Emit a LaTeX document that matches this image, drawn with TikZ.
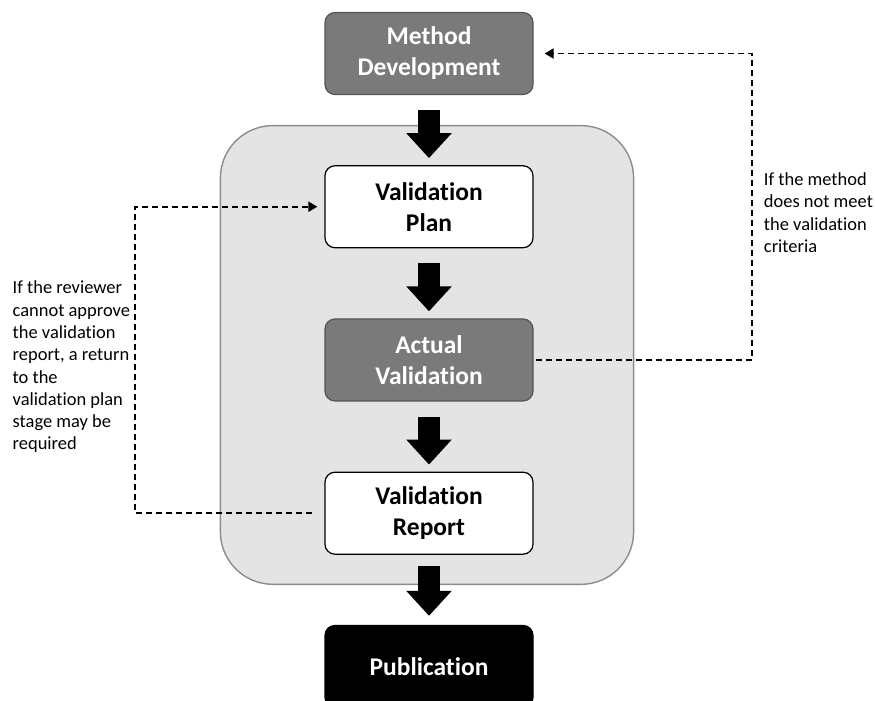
\documentclass[tikz,border=0pt]{standalone}
\usepackage{fontspec}
\setmainfont{Carlito}[Ligatures=NoCommon]
\usepackage{tikz}
\usetikzlibrary{arrows.meta, positioning, calc, backgrounds}

\definecolor{darkbox}{RGB}{122,122,122}
\definecolor{darkedge}{RGB}{85,85,85}
\definecolor{groupfill}{RGB}{228,228,228}
\definecolor{groupedge}{RGB}{140,140,140}

\begin{document}
\begin{tikzpicture}[node distance=1.4cm,
    stage/.style={draw, rounded corners=0.2cm, minimum width=4.16cm, minimum height=1.64cm,
                  align=center, font=\fontsize{14.5}{17.6}\selectfont\bfseries, line width=0.7pt},
    whitestage/.style={stage, fill=white, draw=black},
    greystage/.style={stage, fill=darkbox, draw=darkedge, text=white},
    blackstage/.style={stage, fill=black, draw=black, text=white},
    bigarrow/.style={-{Triangle[length=0.5cm, width=0.88cm]}, line width=0.44cm},
    loopline/.style={dashed, dash pattern=on 0.12cm off 0.08cm, line width=1.05pt,
                     -{Triangle[length=0.18cm, width=0.2cm]}},
    note/.style={align=left, inner sep=0pt, font=\fontsize{10.5}{12.7}\selectfont}]
    \useasboundingbox (0,0) rectangle (17.5,-14);
    % Nodes
    \node[greystage] (devel) at (8.58,-1.07) {Method\\Development};
    \node[whitestage, below=of devel] (plan) {Validation\\Plan};
    \node[greystage, below=of plan] (actual) {Actual\\Validation};
    \node[whitestage, below=of actual] (report) {Validation\\Report};
    \node[blackstage, below=of report] (publ) {Publication};

    % Group box
    \begin{pgfonlayer}{background}
        \draw[groupedge, fill=groupfill, line width=0.8pt, rounded corners=1.05cm]
            ($(plan.north west)+(-2.08,0.79)$) rectangle ($(report.south east)+(2.0,-0.59)$);
    \end{pgfonlayer}

    % Notes
    \node[note, anchor=east] (revnote) at ([xshift=-3.88cm, yshift=-0.14cm]actual.west)
        {If the reviewer\\cannot approve\\the validation\\report, a return\\to the\\validation plan\\stage may be\\required};
    \node[note, anchor=west] (critnote) at ([xshift=4.6cm, yshift=-0.12cm]plan.east)
        {If the method\\does not meet\\the validation\\criteria};

    % Arrows
    \draw[bigarrow] ([yshift=-0.3cm]devel.south) -- ([yshift=0.14cm]plan.north);
    \draw[bigarrow] ([yshift=-0.3cm]plan.south) -- ([yshift=0.14cm]actual.north);
    \draw[bigarrow] ([yshift=-0.3cm]actual.south) -- ([yshift=0.14cm]report.north);
    \draw[bigarrow] ([yshift=-0.22cm]report.south) -- ([yshift=0.18cm]publ.north);
    \draw[loopline] ([xshift=-0.24cm]report.west) -- ++(-3.54,0) |- ([xshift=-0.14cm]plan.west);
    \draw[loopline] ([xshift=0.04cm]actual.east) -- ++(4.32,0) |- ([xshift=0.22cm]devel.east);
\end{tikzpicture}
\end{document}
